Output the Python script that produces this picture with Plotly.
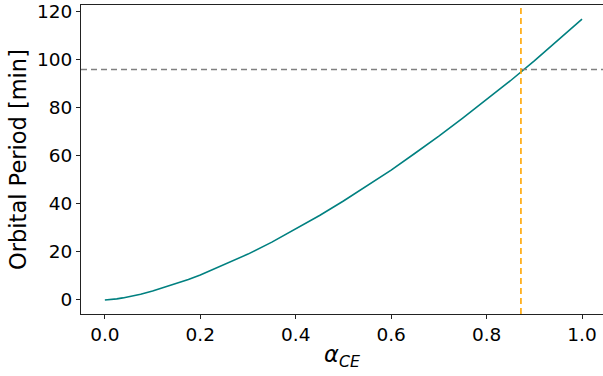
import plotly.graph_objects as go

alpha_ce = [0.0, 0.0125, 0.025, 0.0375, 0.05, 0.0625, 0.075, 0.1, 0.125, 0.15, 0.175,
            0.2, 0.25, 0.3, 0.35, 0.4, 0.45, 0.5,
            0.55, 0.6, 0.65, 0.7, 0.75, 0.8, 0.85, 0.9, 0.95, 1.0]
period_min = [0.0, 0.15, 0.45, 0.85, 1.3, 1.8, 2.4, 3.7, 5.2, 6.8, 8.5,
              10.4, 14.6, 19.1, 24.1, 29.5, 35.2, 41.2,
              47.5, 54.1, 61.1, 68.2, 75.7, 83.4, 91.3, 99.6, 108.1, 117.0]
target_period = 96.0
alpha_match = 0.872

x_ticks = [0.0, 0.2, 0.4, 0.6, 0.8, 1.0]
x_tick_labels = ["0.0", "0.2", "0.4", "0.6", "0.8", "1.0"]
y_ticks = [0, 20, 40, 60, 80, 100, 120]
y_tick_labels = ["0", "20", "40", "60", "80", "100", "120"]

fig = go.Figure()
fig.add_trace(go.Scatter(x=alpha_ce, y=period_min, mode="lines",
                         line=dict(color="#008080", width=1.6),
                         showlegend=False))
fig.add_hline(y=target_period, line=dict(color="#808080", width=1.6, dash="6px,4px"))
fig.add_vline(x=alpha_match, line=dict(color="#FFA500", width=1.6, dash="6px,4px"))

font = "DejaVu Sans"
tick_size = 18.5
title_size = 22.5
fig.update_layout(
    width=603, height=376,
    margin=dict(l=81, r=0, t=5, b=62),
    plot_bgcolor="white", paper_bgcolor="white",
    font=dict(family=font, color="black", size=tick_size),
    xaxis=dict(range=[-0.05, 1.044], tickvals=x_ticks, ticktext=x_tick_labels,
               automargin=False,
               showgrid=False, zeroline=False, showline=True, linecolor="#222",
               linewidth=1, mirror=True, ticks="outside", ticklen=4, tickcolor="#222",
               tickfont=dict(size=tick_size),
               title=dict(text="<i>α</i><sub><i>CE</i></sub>", font=dict(size=title_size), standoff=2)),
    yaxis=dict(range=[-5.85, 122.85], tickvals=y_ticks, ticktext=y_tick_labels,
               automargin=False,
               showgrid=False, zeroline=False, showline=True, linecolor="#222",
               linewidth=1, mirror=True, ticks="outside", ticklen=4, tickcolor="#222",
               tickfont=dict(size=tick_size),
               title=dict(text="Orbital Period [min]", font=dict(size=title_size), standoff=4)),
)

fig.write_html("out.html", config={"displayModeBar": False},
               post_script="document.body.style.margin='0';document.body.style.overflow='hidden';")
